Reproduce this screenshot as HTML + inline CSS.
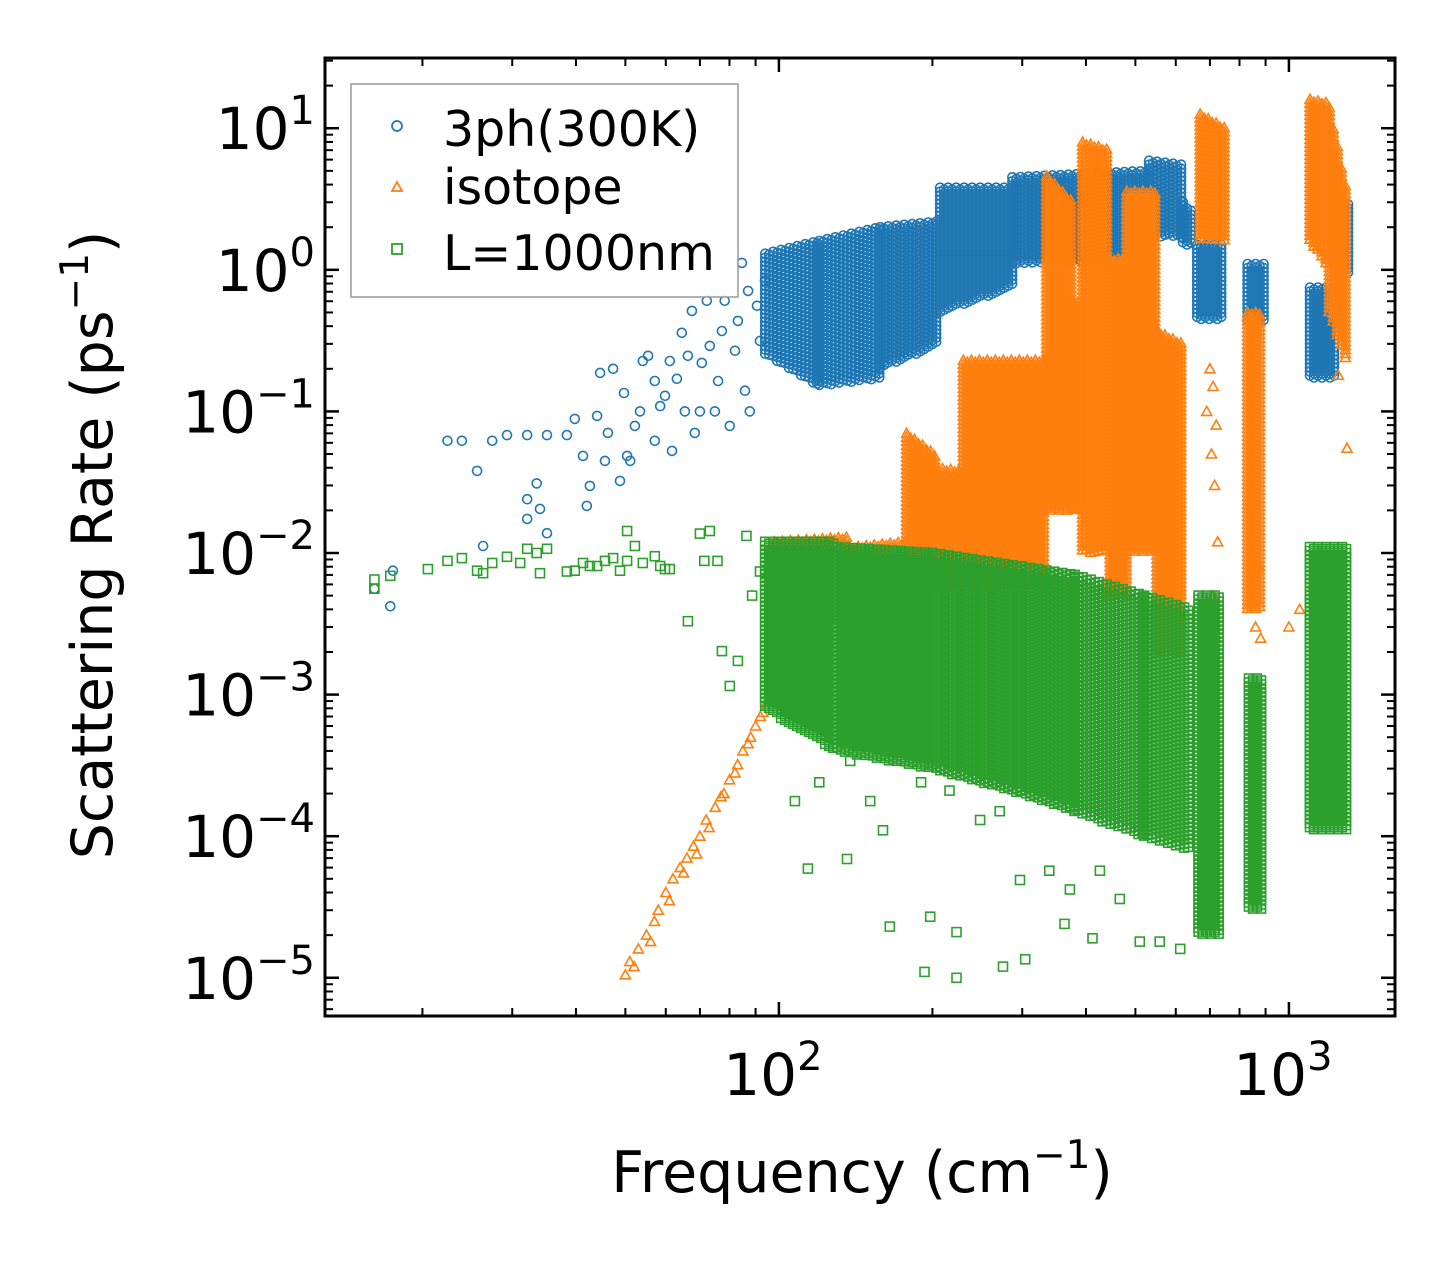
<!DOCTYPE html>
<html><head><meta charset="utf-8"><style>
html,body{margin:0;padding:0;background:#fff;}
svg{display:block;font-family:"DejaVu Sans","Liberation Sans",sans-serif;}
</style></head><body>
<svg id="chart" xmlns="http://www.w3.org/2000/svg" width="1455" height="1265" viewBox="0 0 1455 1265">
<rect x="0" y="0" width="1455" height="1265" fill="#fff"/>
<g id="marks"></g>
<g id="axes"></g>
<g>
<rect x="351" y="84" width="387" height="213" fill="#fff" fill-opacity="0.8" stroke="#999" stroke-width="1.5"/>
<g><circle cx="397" cy="126" r="5" fill="none" stroke="#1f77b4" stroke-width="1.8"/><text x="443" y="146" font-size="49">3ph(300K)</text></g>
<g><path d="M397,182 l5,9 h-10 z" fill="none" stroke="#ff7f0e" stroke-width="1.8"/><text x="443" y="204" font-size="49">isotope</text></g>
<g><rect x="392" y="244" width="10" height="10" fill="none" stroke="#2ca02c" stroke-width="1.8"/><text x="443" y="270" font-size="49">L=1000nm</text></g>
</g>
<text x="862" y="1192" font-size="57" text-anchor="middle">Frequency (cm<tspan font-size="39" dy="-24">−1</tspan><tspan dy="24">)</tspan></text>
<text transform="translate(112,545) rotate(-90)" font-size="57" text-anchor="middle">Scattering Rate (ps<tspan font-size="39" dy="-24">−1</tspan><tspan dy="24">)</tspan></text>
</svg>
<script>
// Axis domain (log10)
const xLogMin = 1.110, xLogMax = 3.208;
const yLogMin = -5.27, yLogMax = 1.496;
// tick labels
const xTickExps = [2, 3];
const yTickExps = [1, 0, -1, -2, -3, -4, -5];

// Blue: 3ph sparse points
const blueFreq = [16.1,17.3,17.5,22.4,23.9,25.6,26.3,27.4,29.3,32.1,32.1,32.1,33.5,34.0,35.1,35.1,38.4,39.8,41.3,42.0,42.6,44.0,44.6,45.6,46.2,47.3,48.8,49.7,50.4,51.1,52.2,53.4,54.1,55.4,57.1,57.1,58.5,59.8,61.1,61.7,63.1,64.5,65.4,66.3,67.5,68.4,70.0,70.6,72.2,73.2,74.9,76.0,77.3,78.3,80.1,82.0,83.1,84.6,85.8,87.0,87.7,90.6,91.8,93.9];
const blueRate = [0.0056,0.0042,0.0075,0.062,0.062,0.038,0.0112,0.062,0.068,0.068,0.024,0.0174,0.031,0.0205,0.068,0.0138,0.068,0.0885,0.0485,0.0215,0.0298,0.093,0.187,0.0447,0.0705,0.2,0.0323,0.135,0.0485,0.0447,0.079,0.1,0.227,0.247,0.164,0.062,0.109,0.129,0.227,0.0526,0.17,0.359,0.1,0.247,0.513,0.0705,0.1,0.22,0.604,0.29,0.1,0.164,0.37,0.604,0.079,0.268,0.436,1.12,0.14,0.71,0.1,0.557,0.315,0.836];
// Dense bands: [f0, f1, low@f0, high@f0, low@f1, high@f1]
const blueBands = [[94,120,0.25,1.3,0.15,1.6],[120,158,0.15,1.6,0.17,2.0],[158,207,0.2,2.0,0.3,2.2],[207,287,0.5,3.8,0.75,3.8],[287,532,1.1,4.5,1.2,5.0],[532,620,1.7,5.9,1.7,5.5],[620,650,1.5,3,1.5,2.5],[661,750,0.44,1.5,0.44,1.5],[830,900,0.44,1.1,0.44,1.1],[1100,1240,0.17,0.75,0.17,0.75],[1260,1330,0.94,2.9,0.94,2.9]];

// Orange: isotope sparse points
const orangeFreq = [50,51,52,53,55,56,57,58,60,61,62,64,65,66,68,69,70,72,73,75,77,78,80,82,83,85,87,88,90,92,93,95,97,98,100,690,700,705,710,715,720,725,710,720,850,860,870,880,1000,1050,1120,1150,1250,1300];
const orangeRate = [1.05e-5,1.3e-5,1.2e-5,1.6e-5,2e-5,1.8e-5,2.5e-5,3e-5,4e-5,3.5e-5,5e-5,6e-5,5.5e-5,7e-5,8.5e-5,7.5e-5,1e-4,1.3e-4,1.15e-4,1.6e-4,1.9e-4,2e-4,2.5e-4,2.8e-4,3.2e-4,4e-4,4.5e-4,5e-4,6e-4,7e-4,7.5e-4,9e-4,1e-3,1.1e-3,1.3e-3,0.1,0.2,0.05,0.15,0.03,0.08,0.012,0.005,0.0025,0.006,0.003,0.008,0.0025,0.003,0.004,0.006,0.01,0.18,0.055];
const orangeBands = [[98,138,0.0012,0.012,0.005,0.013],[138,178,0.005,0.011,0.005,0.012],[178,202,0.006,0.07,0.006,0.05],[202,230,0.006,0.04,0.006,0.038],[230,335,0.006,0.23,0.006,0.23],[335,377,0.02,4.6,0.02,3],[377,394,0.02,0.6,0.02,0.6],[394,446,0.01,8,0.01,7],[446,481,0.005,1.2,0.005,1.2],[481,551,0.01,3.6,0.01,3.6],[551,620,0.002,0.37,0.002,0.3],[670,750,1.6,12.6,1.6,10],[830,890,0.004,0.5,0.004,0.5],[1100,1200,1.6,16,1.0,15],[1200,1310,0.5,14,0.2,3]];

// Green: boundary sparse points
const greenFreq = [16.1,16.1,17.3,20.5,22.4,23.9,25.6,26.3,27.4,29.3,31.1,32.1,33.5,34.0,35.1,38.4,39.8,41.3,42.6,44.0,45.6,47.3,48.8,50.4,50.4,52.2,54.1,57.1,58.5,59.8,61.1,66.3,70.0,71.4,73.2,75.8,77.3,80.1,83.1,86.4,88.6,91.8,114,136,160,165,193,198,223,223,275,304,363,412,107.5,120,138,151,173,190,216,248,271,297,339,372,426,466,510,558,612];
const greenRate = [0.0065,0.0056,0.0069,0.0077,0.0088,0.0092,0.0075,0.0072,0.0085,0.0094,0.0085,0.0107,0.01,0.0072,0.0107,0.0074,0.0075,0.0085,0.0081,0.0081,0.0088,0.0092,0.0075,0.0143,0.0088,0.0112,0.0085,0.0095,0.0081,0.0077,0.0077,0.0033,0.0137,0.0088,0.0143,0.0088,0.00203,0.00115,0.00173,0.0132,0.005,0.0074,5.9e-5,6.9e-5,1.1e-4,2.3e-5,1.1e-5,2.7e-5,2.1e-5,1e-5,1.2e-5,1.35e-5,2.4e-5,1.9e-5,1.77e-4,2.4e-4,3.4e-4,1.77e-4,3.97e-4,2.4e-4,2.1e-4,1.3e-4,1.5e-4,4.9e-5,5.7e-5,4.2e-5,5.7e-5,3.6e-5,1.8e-5,1.8e-5,1.6e-5];
const greenBands = [[94,130,0.0008,0.012,0.0004,0.012],[130,200,0.0004,0.011,0.0003,0.01],[200,300,0.0003,0.01,0.0002,0.008],[300,380,0.0002,0.008,0.00015,0.007],[380,520,0.00015,0.007,0.0001,0.005],[520,640,0.0001,0.005,0.00008,0.004],[665,740,2e-5,0.005,2e-5,0.005],[835,890,3e-5,0.0013,3e-5,0.0013],[1100,1300,1.1e-4,0.011,1.1e-4,0.011]];

const X0 = 325, X1 = 1395, Y0 = 58, Y1 = 1016;
function xScale(f){ return X0 + (Math.log10(f) - xLogMin) / (xLogMax - xLogMin) * (X1 - X0); }
function yScale(r){ return Y1 - (Math.log10(r) - yLogMin) / (yLogMax - yLogMin) * (Y1 - Y0); }

const NS = "http://www.w3.org/2000/svg";
const marks = document.getElementById('marks');
const axes = document.getElementById('axes');

function marker(kind, cx, cy, color, parent){
  let el;
  if(kind === 'circle'){
    el = document.createElementNS(NS,'circle');
    el.setAttribute('cx', cx.toFixed(1)); el.setAttribute('cy', cy.toFixed(1)); el.setAttribute('r', 4.5);
  } else if(kind === 'tri'){
    el = document.createElementNS(NS,'path');
    el.setAttribute('d', 'M' + cx.toFixed(1) + ',' + (cy-5).toFixed(1) + ' l5,9 h-10 z');
  } else {
    el = document.createElementNS(NS,'rect');
    el.setAttribute('x', (cx-4.5).toFixed(1)); el.setAttribute('y', (cy-4.5).toFixed(1));
    el.setAttribute('width', 9); el.setAttribute('height', 9);
  }
  el.setAttribute('fill','none');
  el.setAttribute('stroke', color);
  el.setAttribute('stroke-width', 1.6);
  parent.appendChild(el);
  return el;
}

function drawSeries(name, kind, color, freqs, rates, bands){
  const g = document.createElementNS(NS,'g');
  
  
  marks.appendChild(g);
  bands.forEach(function(b){
    const xa = xScale(b[0]), xb = xScale(b[1]);
    for(let x = xa, col = 0; x <= xb; x += 4, col++){
      const t = (x - xa) / Math.max(1, xb - xa);
      const lo = Math.log10(b[2]) + t * (Math.log10(b[4]) - Math.log10(b[2]));
      const hi = Math.log10(b[3]) + t * (Math.log10(b[5]) - Math.log10(b[3]));
      const yt = yScale(Math.pow(10, hi)), yb = yScale(Math.pow(10, lo));
      for(let y = yt + (col % 2) * 2; y <= yb; y += 4){
        const m = marker(kind, x, y, color, g);
        
        
      }
    }
  });
  for(let i = 0; i < freqs.length; i++){
    const m = marker(kind, xScale(freqs[i]), yScale(rates[i]), color, g);
    
    
  }
}
drawSeries('3ph', 'circle', '#1f77b4', blueFreq, blueRate, blueBands);
drawSeries('isotope', 'tri', '#ff7f0e', orangeFreq, orangeRate, orangeBands);
drawSeries('boundary', 'square', '#2ca02c', greenFreq, greenRate, greenBands);

function line(x1,y1,x2,y2,w,name){
  const l = document.createElementNS(NS,'line');
  l.setAttribute('x1',x1); l.setAttribute('y1',y1); l.setAttribute('x2',x2); l.setAttribute('y2',y2);
  l.setAttribute('stroke','#000'); l.setAttribute('stroke-width',w);
  
  
  axes.appendChild(l);
}
const fr = document.createElementNS(NS,'rect');
fr.setAttribute('x',X0); fr.setAttribute('y',Y0); fr.setAttribute('width',X1-X0); fr.setAttribute('height',Y1-Y0);
fr.setAttribute('fill','none'); fr.setAttribute('stroke','#000'); fr.setAttribute('stroke-width',3);


axes.appendChild(fr);

for(let e = 1; e <= 3; e++){
  for(let m = 1; m <= 9; m++){
    const f = m * Math.pow(10, e);
    const lf = Math.log10(f);
    if(lf < xLogMin || lf > xLogMax) continue;
    const x = xScale(f);
    const len = m === 1 ? 14 : 8, w = m === 1 ? 2.5 : 2;
    line(x, Y1, x, Y1 - len, w, m === 1 ? 'x-major-tick' : 'x-minor-tick');
    line(x, Y0, x, Y0 + len, w, m === 1 ? 'x-major-tick-top' : 'x-minor-tick-top');
  }
}
xTickExps.forEach(function(e){
  const t = document.createElementNS(NS,'text');
  t.setAttribute('x', xScale(Math.pow(10,e)) - 6); t.setAttribute('y', 1095);
  t.setAttribute('font-size', 58); t.setAttribute('text-anchor','middle');
  
  
  t.innerHTML = '10<tspan font-size="40" dy="-25">' + e + '</tspan>';
  axes.appendChild(t);
});
for(let e = -6; e <= 1; e++){
  for(let m = 1; m <= 9; m++){
    const r = m * Math.pow(10, e);
    const lr = Math.log10(r);
    if(lr < yLogMin || lr > yLogMax) continue;
    const y = yScale(r);
    const len = m === 1 ? 14 : 8, w = m === 1 ? 2.5 : 2;
    line(X0, y, X0 + len, y, w, m === 1 ? 'y-major-tick' : 'y-minor-tick');
    line(X1, y, X1 - len, y, w, m === 1 ? 'y-major-tick-right' : 'y-minor-tick-right');
  }
}
yTickExps.forEach(function(e){
  const t = document.createElementNS(NS,'text');
  t.setAttribute('x', 315); t.setAttribute('y', yScale(Math.pow(10,e)) + 21);
  t.setAttribute('font-size', 58); t.setAttribute('text-anchor','end');
  
  
  const lbl = e < 0 ? '−' + (-e) : '' + e;
  t.innerHTML = '10<tspan font-size="40" dy="-25">' + lbl + '</tspan>';
  axes.appendChild(t);
});
</script>
</body></html>
